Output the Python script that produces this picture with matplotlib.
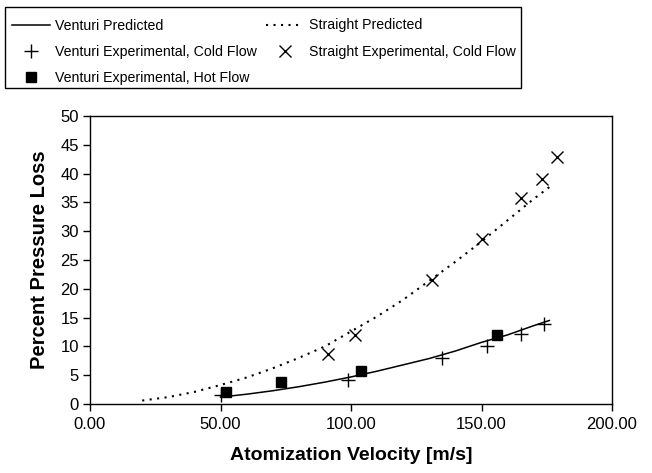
import matplotlib
matplotlib.use("Agg")
import matplotlib.pyplot as plt
from matplotlib.ticker import FuncFormatter
from matplotlib.patches import Rectangle

plt.rcParams['font.family'] = ['Liberation Sans', 'DejaVu Sans']

# Predicted curves
venturi_pred_v = [50, 60, 70, 80, 90, 100, 110, 120, 130, 140, 150, 160, 170, 176]
venturi_pred_p = [1.2, 1.7, 2.3, 3.0, 3.8, 4.7, 5.7, 6.8, 7.9, 9.2, 10.7, 12.0, 13.6, 14.5]

straight_pred_v = [20, 30, 40, 50, 60, 70, 80, 90, 100, 110, 120, 130, 140, 150, 160, 170, 177]
straight_pred_p = [0.6, 1.2, 2.1, 3.3, 4.6, 6.2, 8.0, 10.0, 12.6, 15.2, 18.1, 21.4, 24.7, 28.2, 31.9, 35.6, 38.0]

# Experimental data
venturi_cold_v = [50, 99, 135, 152, 165, 174]
venturi_cold_p = [1.6, 4.1, 8.0, 10.1, 12.2, 13.9]

straight_cold_v = [91, 101.5, 131, 150, 165, 173, 179]
straight_cold_p = [8.7, 11.9, 21.5, 28.6, 35.7, 39.1, 42.8]

venturi_hot_v = [52, 73, 104, 156]
venturi_hot_p = [2.0, 3.8, 5.8, 11.9]

x_ticks = [0, 50, 100, 150, 200]
y_ticks = list(range(0, 55, 5))

W, H = 652, 473
fig = plt.figure(figsize=(W/100, H/100), dpi=100)
ax = fig.add_axes([90/W, 1-404/H, (612-90)/W, (404-116)/H])

h_vp, = ax.plot(venturi_pred_v, venturi_pred_p, color='black', lw=1.1,
                label='Venturi Predicted')
h_sp, = ax.plot(straight_pred_v, straight_pred_p, color='black', lw=1.5,
                linestyle=(0, (1, 2.6)), label='Straight Predicted')
h_vc, = ax.plot(venturi_cold_v, venturi_cold_p, linestyle='none', marker='+',
                markersize=9.5, markeredgewidth=1.0, color='black',
                label='Venturi Experimental, Cold Flow')
h_sc, = ax.plot(straight_cold_v, straight_cold_p, linestyle='none', marker='x',
                markersize=9, markeredgewidth=1.0, color='black',
                label='Straight Experimental, Cold Flow')
h_vh, = ax.plot(venturi_hot_v, venturi_hot_p, linestyle='none', marker='s',
                markersize=7.5, color='black',
                label='Venturi Experimental, Hot Flow')

ax.set_xlim(0, 200)
ax.set_ylim(0, 50)
ax.set_xticks(x_ticks)
ax.set_yticks(y_ticks)
ax.xaxis.set_major_formatter(FuncFormatter(lambda v, p: f"{v:.2f}"))
ax.tick_params(direction='out', length=5, width=1, labelsize=12, pad=4)
ax.tick_params(axis='y', pad=3)
for s in ax.spines.values():
    s.set_linewidth(1.0)

ax.set_xlabel('Atomization Velocity [m/s]', fontsize=14, fontweight='bold', labelpad=11)
ax.set_ylabel('Percent Pressure Loss', fontsize=14.5, fontweight='bold', labelpad=8)

# legend frame drawn separately
fig.patches.append(Rectangle((5/W, 1-88/H), (521-5)/W, (88-7)/H,
                             transform=fig.transFigure, fill=False,
                             edgecolor='black', lw=1.0))

handles = [h_vp, h_vc, h_vh, h_sp, h_sc]
leg = fig.legend(handles, [h.get_label() for h in handles],
                 loc='upper left', bbox_to_anchor=(12/W, 1-18.5/H),
                 ncol=2, fontsize=10.2, frameon=False,
                 borderpad=0, labelspacing=0.85, handlelength=2.65,
                 handletextpad=0.42, columnspacing=0.6, borderaxespad=0)

fig.savefig('out.png', dpi=100)
